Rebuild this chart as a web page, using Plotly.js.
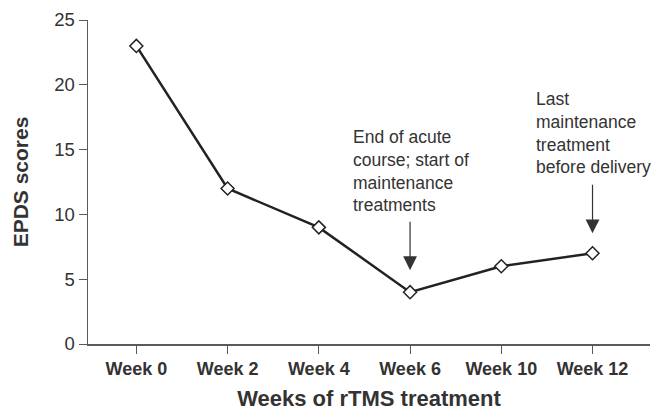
<!DOCTYPE html>
<html>
<head>
<meta charset="utf-8">
<script src="https://cdn.plot.ly/plotly-3.0.1.min.js"></script>
<style>html,body{margin:0;padding:0;background:#fff;}#chart{width:651px;height:411px;}</style>
</head>
<body>
<div id="chart"></div>
<script>
var weeks = ["Week 0", "Week 2", "Week 4", "Week 6", "Week 10", "Week 12"];
var epdsScores = [23, 12, 9, 4, 6, 7];
var yTicks = [0, 5, 10, 15, 20, 25];
var noteAcute = "End of acute<br>course; start of<br>maintenance<br>treatments";
var noteLast = "Last<br>maintenance<br>treatment<br>before delivery";

var FONT = "Liberation Sans, Arial, Helvetica, sans-serif";
var AX = "#5a5a5a";
var TXT = "#333333";

var trace = {
  x: weeks, y: epdsScores, type: "scatter", mode: "lines+markers",
  line: {color: "#222222", width: 2.5},
  marker: {symbol: "diamond", size: 10, color: "#ffffff", line: {color: "#222222", width: 1.5}},
  hoverinfo: "skip", cliponaxis: false
};

var layout = {
  width: 651, height: 411,
  margin: {l: 88, r: 1, t: 20, b: 67},
  paper_bgcolor: "#ffffff", plot_bgcolor: "#ffffff",
  showlegend: false,
  font: {family: FONT, color: TXT},
  xaxis: {
    type: "category", range: [-0.53, 5.63],
    showline: true, linecolor: AX, linewidth: 1.5,
    ticks: "outside", ticklen: 8, tickcolor: AX, tickwidth: 1,
    showgrid: false, zeroline: false,
    tickfont: {family: FONT, size: 18, color: TXT, weight: "bold"},
    title: {text: "<b>Weeks of rTMS treatment</b>", font: {family: FONT, size: 22, color: TXT}, standoff: 15}
  },
  yaxis: {
    range: [0, 25], tickvals: yTicks,
    showline: true, linecolor: AX, linewidth: 1.5,
    ticks: "outside", ticklen: 8, tickcolor: AX, tickwidth: 1,
    showgrid: false, zeroline: false,
    tickfont: {family: FONT, size: 18.5, color: TXT},
    title: {text: "<b>EPDS scores</b>", font: {family: FONT, size: 21, color: TXT}, standoff: 20}
  },
  annotations: [
    {x: "Week 6", y: epdsScores[3], xref: "x", yref: "y", text: "", showarrow: true,
     ax: 0, ay: -72, arrowhead: 2, arrowsize: 2.3, arrowwidth: 1.2, arrowcolor: "#333333", standoff: 22},
    {x: "Week 12", y: epdsScores[5], xref: "x", yref: "y", text: "", showarrow: true,
     ax: 0, ay: -70, arrowhead: 2, arrowsize: 2.3, arrowwidth: 1.2, arrowcolor: "#333333", standoff: 20},
    {x: 351, y: 125, xref: "paper", yref: "paper", xanchor: "left", yanchor: "top", showarrow: false,
     text: noteAcute, align: "left", font: {family: FONT, size: 17.5, color: TXT}},
    {x: 534, y: 87, xref: "paper", yref: "paper", xanchor: "left", yanchor: "top", showarrow: false,
     text: noteLast, align: "left", font: {family: FONT, size: 17.5, color: TXT}}
  ]
};
// convert annotation pixel positions to paper coords
var pw = 651 - 88 - 1, ph = 411 - 20 - 67;
layout.annotations[2].x = (351 - 88) / pw; layout.annotations[2].y = 1 - (125 - 20) / ph;
layout.annotations[3].x = (534 - 88) / pw; layout.annotations[3].y = 1 - (87 - 20) / ph;

Plotly.newPlot("chart", [trace], layout, {displayModeBar: false, staticPlot: true});
</script>
</body>
</html>
